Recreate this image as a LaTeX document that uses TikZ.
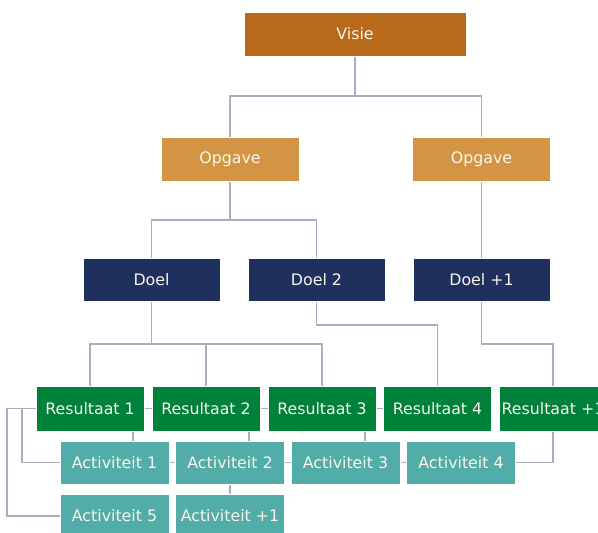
\documentclass[tikz,border=0pt]{standalone}
\usepackage{fontspec}
\setmainfont{DejaVu Sans}
\definecolor{cVisie}{HTML}{B86A1A}
\definecolor{cOpgave}{HTML}{D39543}
\definecolor{cDoel}{HTML}{1F2F5E}
\definecolor{cRes}{HTML}{00813A}
\definecolor{cAct}{HTML}{52ADA8}
\definecolor{cLine}{HTML}{A8AEC0}
\definecolor{cText}{HTML}{FAF5EC}
\pgfdeclarelayer{bg}
\pgfsetlayers{bg,main}
\begin{document}
\begin{tikzpicture}[x=1pt,y=-1pt,
  box/.style={rectangle,draw=white,line width=0.6pt,text=cText,font=\fontsize{15.8}{18}\selectfont,inner sep=0pt},
  visie/.style={box,fill=cVisie,minimum width=222pt,minimum height=44pt},
  opg/.style={box,fill=cOpgave,minimum width=138pt,minimum height=44pt},
  doel/.style={box,fill=cDoel,minimum width=137pt,minimum height=43pt},
  res/.style={box,fill=cRes,minimum width=108pt,minimum height=45pt},
  act/.style={box,fill=cAct,minimum width=109pt,minimum height=43pt},
  conn/.style={draw=cLine,line width=1.3pt}]
\useasboundingbox (0,0) rectangle (598,533);
\begin{scope}
\clip (0,0) rectangle (598,533);
% nodes
\node[visie] (V) at (355,34) {Visie};
\node[opg] (O1) at (230,159) {Opgave};
\node[opg] (O2) at (481.5,159) {Opgave};
\node[doel] (D1) at (151.5,279.5) {Doel};
\node[doel] (D2) at (316.5,279.5) {Doel 2};
\node[doel] (D3) at (481.5,279.5) {Doel +1};
\node[res] (R1) at (90,408.5) {Resultaat 1};
\node[res] (R2) at (206,408.5) {Resultaat 2};
\node[res] (R3) at (322,408.5) {Resultaat 3};
\node[res] (R4) at (437.5,408.5) {Resultaat 4};
\node[res] (R5) at (553,408.5) {Resultaat +1};
\node[act] (A1) at (114.5,462.5) {Activiteit 1};
\node[act] (A2) at (230,462.5) {Activiteit 2};
\node[act] (A3) at (345.5,462.5) {Activiteit 3};
\node[act] (A4) at (461,462.5) {Activiteit 4};
\node[act] (A5) at (114.5,516) {Activiteit 5};
\node[act] (A6) at (230,516) {Activiteit +1};
% branch points
\coordinate (bV) at (355,96);
\coordinate (bO1) at (230,220);
\coordinate (bD1) at (151.5,344);
\coordinate (bD2) at (316.5,325);
\coordinate (bD3) at (481.5,344);
\coordinate (L1) at (7,408.5);
\coordinate (L2) at (22,408.5);
\coordinate (bR5) at (553,462.5);
\end{scope}
\begin{pgfonlayer}{bg}
\clip (0,0) rectangle (598,533);
\path[conn] (V.south) -- (bV) -| (O1.north);
\path[conn] (bV) -| (O2.north);
\path[conn] (O1.south) -- (bO1) -| (D1.north);
\path[conn] (bO1) -| (D2.north);
\path[conn] (O2.south) -- (D3.north);
\path[conn] (D1.south) -- (bD1) -| (R1.north);
\path[conn] (bD1) -| (R2.north);
\path[conn] (bD1) -| (R3.north);
\path[conn] (D2.south) -- (bD2) -| (R4.north);
\path[conn] (D3.south) -- (bD3) -| (R5.north);
\path[conn] (R1.east) -- (R2.west);
\path[conn] (R2.east) -- (R3.west);
\path[conn] (R3.east) -- (R4.west);
\path[conn] (A1.east) -- (A2.west);
\path[conn] (A2.east) -- (A3.west);
\path[conn] (A3.east) -- (A4.west);
\path[conn] (R1.south -| 133,0) -- (A1.north -| 133,0);
\path[conn] (R2.south -| 249,0) -- (A2.north -| 249,0);
\path[conn] (R3.south -| 365,0) -- (A3.north -| 365,0);
\path[conn] (R5.south) -- (bR5) -- (A4.east);
\path[conn] (A2.south) -- (A6.north);
\path[conn] (R1.west) -- (L1) |- (A5.west);
\path[conn] (L2) |- (A1.west);
\end{pgfonlayer}
\end{tikzpicture}
\end{document}
